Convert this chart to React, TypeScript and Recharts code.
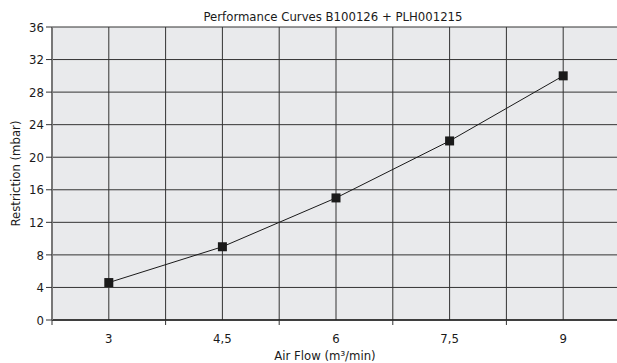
import React from 'react';
import { LineChart, Line, XAxis, YAxis, CartesianGrid } from 'recharts';

const airFlow = [3, 4.5, 6, 7.5, 9];
const restriction = [4.6, 9, 15, 22, 30];
const xTicks = [2.25, 3, 3.75, 4.5, 5.25, 6, 6.75, 7.5, 8.25, 9, 9.75];
const yTicks = [0, 4, 8, 12, 16, 20, 24, 28, 32, 36];
const title = 'Performance Curves B100126 + PLH001215';
const xLabel = 'Air Flow (m³/min)';
const yLabel = 'Restriction (mbar)';

const data = airFlow.map((x, i) => ({ x, y: restriction[i] }));

const FONT = '"Liberation Sans Narrow", "DejaVu Sans Condensed", Arial, sans-serif';

const XTick = (props: any) => {
  const { x, y, payload } = props;
  const v = payload.value;
  if (airFlow.includes(v)) {
    return (
      <text x={x} y={y + 15} textAnchor="middle" fill="#1a1a1a" fontSize={13} fontFamily={FONT}>
        {String(v).replace('.', ',')}
      </text>
    );
  }
  return <line x1={x} x2={x} y1={y - 8} y2={y - 3} stroke="#333" strokeWidth={1} />;
};

const Square = (props: any) => {
  const { cx, cy } = props;
  return <rect x={cx - 4.5} y={cy - 4.5} width={9} height={9} fill="#1a1a1a" />;
};

export default function App() {
  return (
    <div style={{ position: 'absolute', left: 0, top: 0, width: 617, height: 363, overflow: 'hidden', background: '#fff' }}>
      <div style={{ position: 'absolute', left: 52, width: 562, top: 10, textAlign: 'center', fontFamily: FONT, fontSize: 13, color: '#1a1a1a', lineHeight: '14px' }}>
        {title}
      </div>
      <LineChart width={630} height={363} data={data} margin={{ top: 27, right: 10, left: 8, bottom: 13 }}>
        <CartesianGrid stroke="#333" strokeWidth={1} fill="#e9eaec" verticalValues={xTicks} horizontalValues={yTicks} />
        <XAxis
          dataKey="x"
          type="number"
          domain={[2.25, 9.75]}
          ticks={xTicks}
          interval={0}
          tick={<XTick />}
          tickLine={false}
          axisLine={{ stroke: '#222', strokeWidth: 1.5 }}
          height={30}
          label={{ value: xLabel, position: 'insideBottom', offset: -10, dx: -11, fill: '#1a1a1a', fontSize: 13, fontFamily: FONT }}
        />
        <YAxis
          type="number"
          domain={[0, 36]}
          ticks={yTicks}
          interval={0}
          width={44}
          tick={{ fill: '#1a1a1a', fontSize: 13, fontFamily: FONT }}
          tickLine={{ stroke: '#333' }}
          tickSize={6}
          axisLine={{ stroke: '#777', strokeWidth: 2 }}
          label={{ value: yLabel, angle: -90, position: 'insideLeft', dx: 2, dy: 0, fill: '#1a1a1a', fontSize: 13, fontFamily: FONT, style: { textAnchor: 'middle' } }}
        />
        <Line
          dataKey="y"
          stroke="#1a1a1a"
          strokeWidth={1}
          dot={<Square />}
          activeDot={false}
          isAnimationActive={false}
        />
      </LineChart>
    </div>
  );
}
